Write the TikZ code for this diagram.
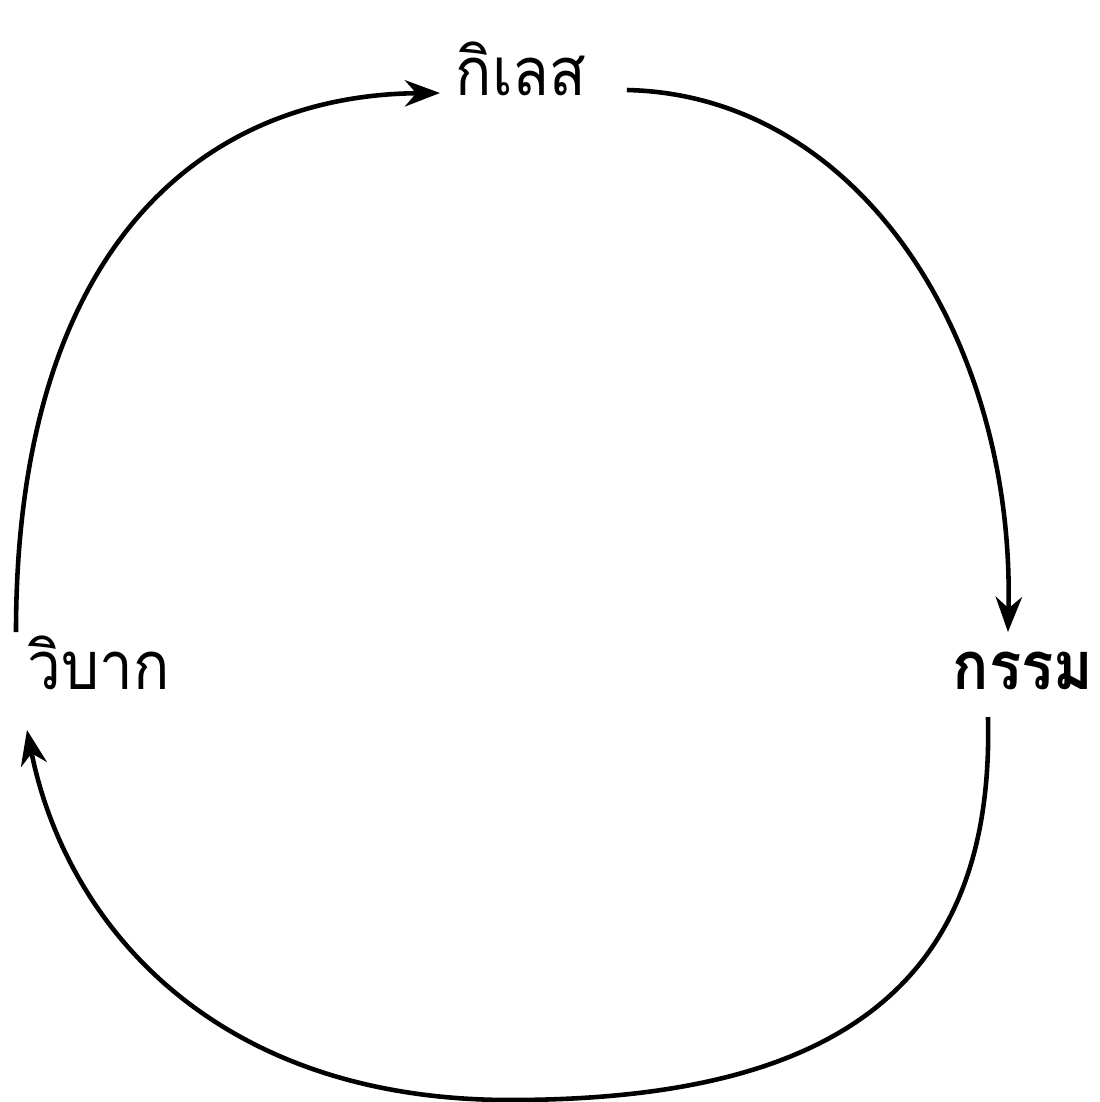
\documentclass[tikz,border=0pt]{standalone}
\usepackage{fontspec}
\newfontfamily\thaifont[Script=Thai,FakeStretch=0.9]{Loma}
\usetikzlibrary{arrows.meta,calc}

\begin{document}
\begin{tikzpicture}[
    x=0.01cm, y=-0.01cm,
    >={Stealth[length=10pt,width=7.5pt]},
    term/.style={font=\thaifont\fontsize{19}{23}\selectfont, inner sep=0pt},
    flow/.style={->,line width=1.3pt},
]
\useasboundingbox (0,0) rectangle (1100,1102);

% three states of the cycle
\node[term,anchor=base west] (kilet) at (455,95) {กิเลส};
\node[term,anchor=base east,font=\thaifont\bfseries\fontsize{19}{23}\selectfont] (kam) at (1094,689) {กรรม};
\node[term,anchor=base west] (vibak) at (27,689) {วิบาก};

% kilet -> kam
\draw[flow] ($(kilet.base east)+(40,-5)$) .. controls (860,95) and (1015,340) .. ($(kam.base)+(-15,-57)$);

% kam -> vibak (lower arc)
\draw[flow] ($(kam.base)+(-35,28)$) .. controls (995,990) and (830,1100) .. (510,1100)
    .. controls (210,1100) and (65,920) .. ($(vibak.base west)+(0,41)$);

% vibak -> kilet
\draw[flow] ($(vibak.base west)+(-11,-57)$) .. controls (16,250) and (200,95) .. ($(kilet.base west)+(-15,-2)$);
\end{tikzpicture}
\end{document}
